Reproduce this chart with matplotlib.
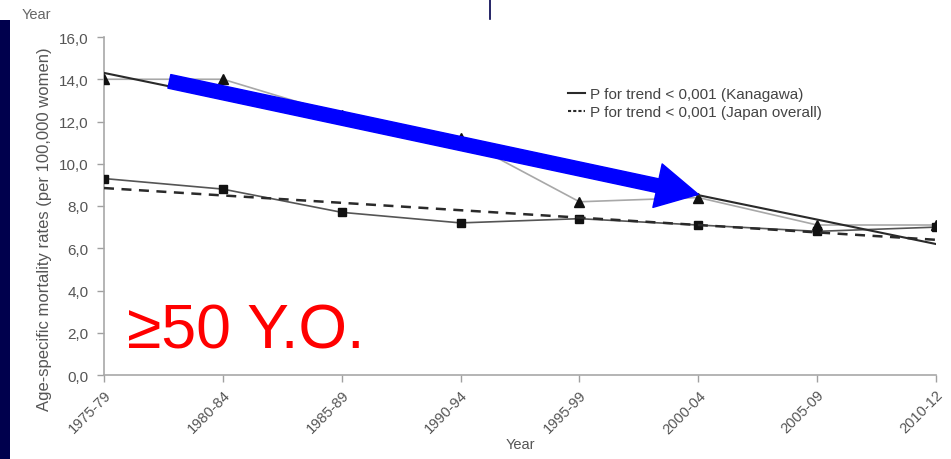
import matplotlib
matplotlib.use("Agg")
import matplotlib.pyplot as plt
from matplotlib.patches import Rectangle, FancyArrowPatch, ArrowStyle
from matplotlib.lines import Line2D

plt.rcParams['font.family'] = ['Liberation Sans', 'DejaVu Sans']

# Five-year periods on the x axis
periods = ['1975-79', '1980-84', '1985-89', '1990-94',
           '1995-99', '2000-04', '2005-09', '2010-12']

# Age-specific mortality rates (per 100,000 women), age >= 50
kanagawa_rate = [14.0, 14.0, 12.3, 11.2, 8.2, 8.4, 7.1, 7.1]
japan_rate = [9.3, 8.8, 7.7, 7.2, 7.4, 7.1, 6.8, 7.0]

# Fitted trend lines (first and last period)
trend_idx = [0, 7]
kanagawa_trend = [14.3, 6.2]
japan_trend = [8.85, 6.4]

y_ticks = [0, 2, 4, 6, 8, 10, 12, 14, 16]
y_tick_labels = ['0,0', '2,0', '4,0', '6,0', '8,0', '10,0', '12,0', '14,0', '16,0']

legend_labels = ['P for trend < 0,001 (Kanagawa)',
                 'P for trend < 0,001 (Japan overall)']

W, H = 951, 460
fig = plt.figure(figsize=(W / 100, H / 100), dpi=100)
fig.patch.set_facecolor('white')

ax = fig.add_axes([104 / W, 1 - 376 / H, (936 - 104) / W, (376 - 38) / H])
x = list(range(len(periods)))

ax.plot(x, kanagawa_rate, color='#a8a8a8', lw=1.2, marker='^', ms=7,
        mfc='#111111', mec='#111111', zorder=3)
ax.plot(x, japan_rate, color='#555555', lw=1.2, marker='s', ms=6,
        mfc='#111111', mec='#111111', zorder=3)
ax.plot(trend_idx, kanagawa_trend, color='#2a2a2a', lw=1.5, zorder=4)
ax.plot(trend_idx, japan_trend, color='#2a2a2a', lw=1.8, ls=(0, (4, 3)), zorder=4)

ax.set_xlim(0, 7)
ax.set_ylim(0, 16)
ax.set_yticks(y_ticks)
ax.set_yticklabels(y_tick_labels)
ax.set_xticks(x)
ax.set_xticklabels(periods, rotation=45, ha='right', va='top',
                   rotation_mode='anchor')
ax.tick_params(axis='both', colors='#a0a0a0', labelcolor='#555555',
               labelsize=10.5, length=5, width=1, direction='out')
ax.tick_params(axis='y', labelsize=11, pad=6)
ax.tick_params(axis='x', pad=4)
for side in ('top', 'right'):
    ax.spines[side].set_visible(False)
for side in ('left', 'bottom'):
    ax.spines[side].set_color('#a8a8a8')
    ax.spines[side].set_linewidth(1.2)

ax.set_xlabel('Year', fontsize=10.5, color='#555555', labelpad=1)
fig.text(45 / W, 1 - 229 / H, 'Age-specific mortality rates (per 100,000 women)',
         rotation=90, ha='center', va='center', fontsize=12, color='#555555')

# Legend for the trend lines
handles = [Line2D([], [], color='#2a2a2a', lw=1.5),
           Line2D([], [], color='#2a2a2a', lw=1.5, ls=(0, (1.5, 1)))]
ax.legend(handles, legend_labels, loc='upper left',
          bbox_to_anchor=((562 - 104) / (936 - 104), 1 - (82 - 38) / (376 - 38)),
          frameon=False, fontsize=11, handlelength=1.1, handletextpad=0.3,
          labelspacing=0.25, borderaxespad=0, labelcolor='#444444')

# Blue emphasis arrow
arrow = FancyArrowPatch((0.55, 13.9), (5.0, 8.55),
                        arrowstyle=ArrowStyle.Simple(head_length=30, head_width=32,
                                                     tail_width=10),
                        mutation_scale=1, color='#0000ff', shrinkA=0, shrinkB=0,
                        zorder=6)
ax.add_patch(arrow)

fig.text(127 / W, 1 - 349 / H, '≥50 Y.O.', fontsize=45, color='#ff0000',
         ha='left', va='baseline')

# Slide frame elements
fig.patches.append(Rectangle((0, 0), 10 / W, (H - 21) / H, transform=fig.transFigure,
                             facecolor='#00004d', edgecolor='none'))
fig.lines.append(Line2D([489.5 / W, 489.5 / W], [1, 1 - 20 / H],
                        transform=fig.transFigure, color='#00004d', lw=1.2))
fig.text(22 / W, 1 - 19 / H, 'Year', fontsize=10.5, color='#666666',
         ha='left', va='baseline')

fig.savefig('out.png', dpi=100)
